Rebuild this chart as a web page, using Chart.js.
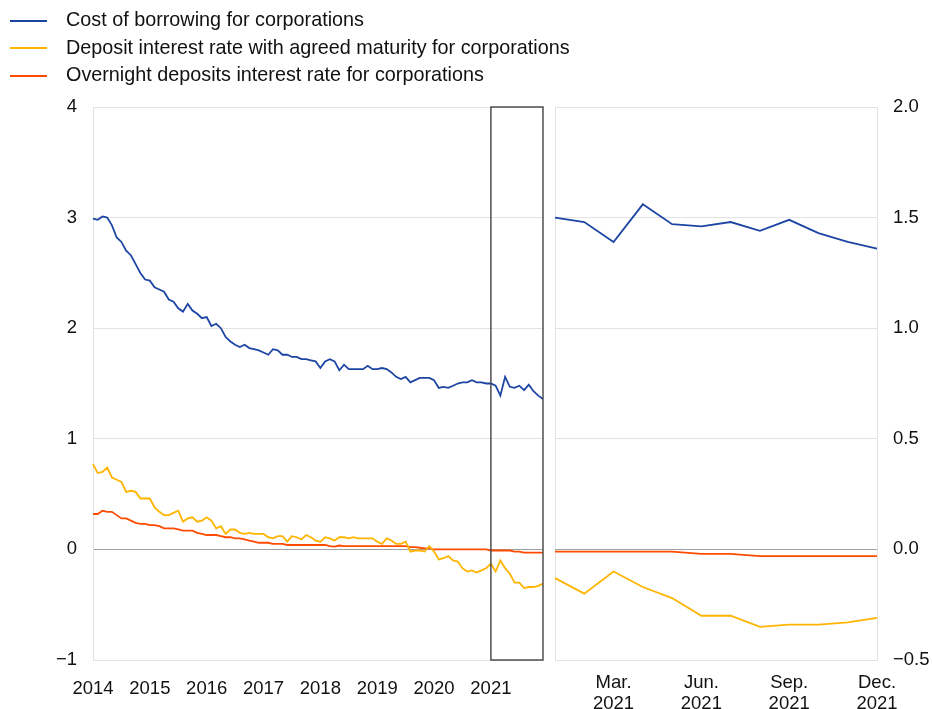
<!DOCTYPE html>
<html>
<head>
<meta charset="utf-8">
<script src="https://cdn.jsdelivr.net/npm/chart.js@4"></script>
<style>
  html, body { margin: 0; padding: 0; background: #fff; }
  #wrap { position: relative; width: 932px; height: 709px; font-family: "Liberation Sans", Arial, sans-serif; }
  #wrap canvas { position: absolute; left: 0; top: 0; }
  #legend { position: absolute; left: 10px; top: 6px; font-size: 19.8px; color: #111; }
  #legend div { height: 27.5px; line-height: 27.5px; white-space: nowrap; }
  #legend span { display: inline-block; width: 37px; height: 2px; vertical-align: middle; margin-right: 19px; }
</style>
</head>
<body>
<div id="wrap">
  <canvas id="left" width="932" height="709"></canvas>
  <canvas id="right" width="932" height="709"></canvas>
  <div id="legend"></div>
</div>
<script>
var years = ['2014', '2015', '2016', '2017', '2018', '2019', '2020', '2021']
var seriesNames = [
    'Cost of borrowing for corporations',
    'Deposit interest rate with agreed maturity for corporations',
    'Overnight deposits interest rate for corporations'
]
var colors = ['#1d45a3', '#ffb400', '#ff4b00']

// monthly, Jan 2014 - Dec 2021
var borrowing = [
    2.99, 2.98, 3.01, 3.00, 2.93, 2.82, 2.78, 2.70, 2.66, 2.58, 2.50, 2.44,
    2.43, 2.37, 2.35, 2.33, 2.26, 2.24, 2.18, 2.15, 2.22, 2.16, 2.13, 2.09,
    2.10, 2.02, 2.04, 2.00, 1.92, 1.88, 1.85, 1.83, 1.85, 1.82, 1.81, 1.80,
    1.78, 1.76, 1.81, 1.80, 1.76, 1.76, 1.74, 1.74, 1.72, 1.72, 1.71, 1.70,
    1.64, 1.70, 1.72, 1.70, 1.62, 1.67, 1.63, 1.63, 1.63, 1.63, 1.66, 1.63,
    1.63, 1.64, 1.63, 1.60, 1.56, 1.54, 1.56, 1.51, 1.53, 1.55, 1.55, 1.55,
    1.53, 1.46, 1.47, 1.46, 1.48, 1.50, 1.51, 1.51, 1.53, 1.51, 1.51, 1.50,
    1.50, 1.48, 1.39, 1.56, 1.47, 1.46, 1.48, 1.44, 1.49, 1.43, 1.39, 1.36
]
var depositAgreed = [
    0.77, 0.69, 0.70, 0.74, 0.65, 0.63, 0.61, 0.52, 0.53, 0.52, 0.46, 0.46,
    0.46, 0.38, 0.34, 0.31, 0.31, 0.33, 0.35, 0.25, 0.28, 0.29, 0.25, 0.26,
    0.29, 0.26, 0.19, 0.21, 0.14, 0.18, 0.18, 0.15, 0.14, 0.15, 0.14, 0.14,
    0.14, 0.11, 0.10, 0.12, 0.12, 0.07, 0.12, 0.11, 0.09, 0.13, 0.11, 0.08,
    0.07, 0.11, 0.10, 0.08, 0.11, 0.11, 0.10, 0.11, 0.10, 0.10, 0.10, 0.10,
    0.07, 0.05, 0.10, 0.08, 0.05, 0.05, 0.07, -0.02, -0.01, -0.01, -0.02, 0.03,
    -0.02, -0.09, -0.08, -0.06, -0.10, -0.11, -0.17, -0.20, -0.19, -0.21, -0.19, -0.17,
    -0.13, -0.20, -0.10, -0.17, -0.22, -0.30, -0.30, -0.35, -0.34, -0.34, -0.33, -0.31
]
var overnight = [
    0.32, 0.32, 0.35, 0.34, 0.34, 0.31, 0.28, 0.28, 0.26, 0.24, 0.23, 0.23,
    0.22, 0.22, 0.21, 0.19, 0.19, 0.19, 0.18, 0.17, 0.17, 0.17, 0.15, 0.14,
    0.13, 0.13, 0.13, 0.12, 0.11, 0.11, 0.10, 0.10, 0.09, 0.08, 0.07, 0.06,
    0.06, 0.06, 0.05, 0.05, 0.05, 0.04, 0.04, 0.04, 0.04, 0.04, 0.04, 0.04,
    0.04, 0.04, 0.03, 0.025, 0.035, 0.03, 0.03, 0.03, 0.03, 0.03, 0.03, 0.03,
    0.03, 0.03, 0.03, 0.03, 0.03, 0.03, 0.03, 0.02, 0.02, 0.015, 0.01, 0.01,
    0.00, 0.00, 0.00, 0.00, 0.00, 0.00, 0.00, 0.00, 0.00, 0.00, 0.00, 0.00,
    -0.01, -0.01, -0.01, -0.01, -0.01, -0.02, -0.02, -0.03, -0.03, -0.03, -0.03, -0.03
]
var rightTicks = ['', '', ['Mar.', '2021'], '', '', ['Jun.', '2021'], '', '', ['Sep.', '2021'], '', '', ['Dec.', '2021']]

var leftLabels = []
for (var i = 0; i < years.length; i++) {
    for (var m = 0; m < 12; m++) leftLabels.push(m === 0 ? years[i] : '')
}

var font = { family: '"Liberation Sans", Arial, sans-serif', size: 18.5, lineHeight: 1.1 }
var gridColor = '#e2e2e2'
var minus = function(s) { return String(s).replace('-', '\u2212') }

function makeSets(from) {
    return [borrowing, depositAgreed, overnight].map(function(d, k) {
        return {
            label: seriesNames[k],
            data: d.slice(from),
            borderColor: colors[k],
            borderWidth: 1.8,
            pointRadius: 0,
            tension: 0,
            fill: false
        }
    })
}

var boxPlugin = {
    id: 'box2021',
    afterDatasetsDraw: function(chart) {
        var x = chart.scales.x, y = chart.scales.y
        var x1 = x.getPixelForValue(84), x2 = x.getPixelForValue(95)
        var y1 = y.getPixelForValue(4), y2 = y.getPixelForValue(-1)
        var c = chart.ctx
        c.save()
        c.strokeStyle = '#444'
        c.lineWidth = 1.4
        c.strokeRect(x1, y1, x2 - x1, y2 - y1)
        c.restore()
    }
}

var zeroGrid = function(ctx) { return ctx.tick && ctx.tick.value === 0 ? '#a0a0a0' : gridColor }

new Chart(document.getElementById('left'), {
    type: 'line',
    data: { labels: leftLabels, datasets: makeSets(0) },
    options: {
        responsive: false,
        animation: false,
        layout: { padding: { left: 0, top: 107, right: 389, bottom: 0 } },
        plugins: { legend: { display: false }, tooltip: { enabled: false } },
        scales: {
            x: {
                grid: { display: false },
                border: { display: true, color: gridColor },
                ticks: { autoSkip: false, maxRotation: 0, color: '#111', font: font, padding: 11 },
                afterFit: function(a) { a.height = 49 }
            },
            y: {
                min: -1, max: 4,
                grid: { color: zeroGrid, drawTicks: false },
                border: { display: true, color: gridColor },
                ticks: { stepSize: 1, color: '#111', font: font, padding: 16, callback: function(v) { return minus(v) } },
                afterFit: function(a) { a.width = 93 }
            }
        }
    },
    plugins: [boxPlugin]
})

new Chart(document.getElementById('right'), {
    type: 'line',
    data: { labels: rightTicks, datasets: makeSets(84) },
    options: {
        responsive: false,
        animation: false,
        layout: { padding: { left: 555, top: 107, right: 0, bottom: 0 } },
        plugins: { legend: { display: false }, tooltip: { enabled: false } },
        scales: {
            x: {
                grid: { color: function(ctx) { return ctx.index === 0 ? gridColor : 'rgba(0,0,0,0)' }, drawTicks: false },
                border: { display: true, color: gridColor },
                ticks: { autoSkip: false, maxRotation: 0, color: '#111', font: font, padding: 13 },
                afterFit: function(a) { a.height = 49 }
            },
            y: {
                position: 'right',
                min: -0.5, max: 2,
                grid: { color: zeroGrid, drawTicks: false },
                border: { display: true, color: gridColor },
                ticks: { stepSize: 0.5, color: '#111', font: font, padding: 16, callback: function(v) { return minus(v.toFixed(1)) } },
                afterFit: function(a) { a.width = 55 }
            }
        }
    }
})

var legend = document.getElementById('legend')
seriesNames.forEach(function(n, k) {
    var row = document.createElement('div')
    var sw = document.createElement('span')
    sw.style.background = colors[k]
    row.appendChild(sw)
    row.appendChild(document.createTextNode(n))
    legend.appendChild(row)
})
</script>
</body>
</html>
